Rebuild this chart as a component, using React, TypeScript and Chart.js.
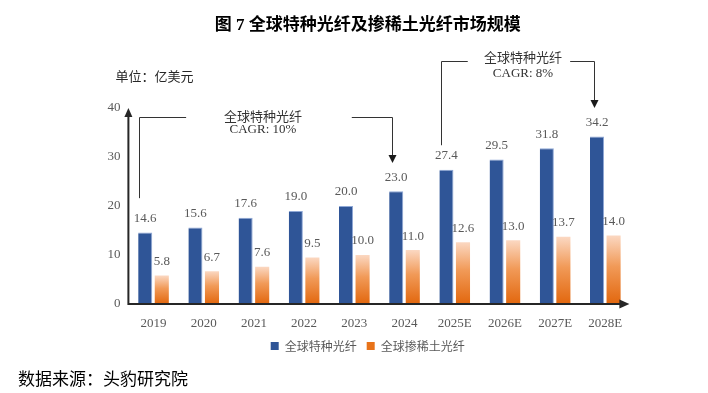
import { useEffect, useRef } from "react";
import { Chart, registerables } from "chart.js";

Chart.register(...registerables);

const categories = ["2019", "2020", "2021", "2022", "2023", "2024", "2025E", "2026E", "2027E", "2028E"];
const specialtyFiber = [14.6, 15.6, 17.6, 19.0, 20.0, 23.0, 27.4, 29.5, 31.8, 34.2];
const rareEarthFiber = [5.8, 6.7, 7.6, 9.5, 10.0, 11.0, 12.6, 13.0, 13.7, 14.0];
const seriesNames = ["全球特种光纤", "全球掺稀土光纤"];
const yMin = 0;
const yMax = 40;
const yStep = 10;
const titleText = "图 7 全球特种光纤及掺稀土光纤市场规模";
const unitText = "单位：亿美元";
const sourceText = "数据来源：头豹研究院";
const noteNames = ["全球特种光纤", "全球特种光纤"];
const noteRates = ["CAGR: 10%", "CAGR: 8%"];

const BLUE = "#2F5597";
const ORANGE = "#E8731A";
const SERIF = "'Liberation Serif', 'Noto Sans CJK SC', serif";
const CJK = "'Noto Sans CJK SC', 'Liberation Serif', sans-serif";

function orangeGradient(ctx: any) {
  const chart = ctx.chart;
  const ys = chart.scales && chart.scales.y;
  if (!chart.chartArea || !ys || ctx.type !== "data") return ORANGE;
  const v = ctx.raw as number;
  const top = ys.getPixelForValue(v);
  const bottom = ys.getPixelForValue(0);
  if (!isFinite(top) || !isFinite(bottom) || top === bottom) return ORANGE;
  const g = chart.ctx.createLinearGradient(0, top, 0, bottom);
  g.addColorStop(0, "#FBD8C2");
  g.addColorStop(0.45, "#F19A58");
  g.addColorStop(1, "#E2670E");
  return g;
}

const decorPlugin = {
  id: "decor",
  afterDraw(chart: any) {
    const ctx = chart.ctx as CanvasRenderingContext2D;
    const xs = chart.scales.x;
    const ys = chart.scales.y;
    const area = chart.chartArea;
    const legend = chart.legend;
    const centerX = legend ? legend.left + legend.width / 2 : (area.left + area.right) / 2;

    ctx.save();
    // Title
    ctx.fillStyle = "#000000";
    ctx.font = `bold 17px ${SERIF}`;
    ctx.textAlign = "center";
    ctx.textBaseline = "middle";
    ctx.fillText(titleText, centerX, 26);

    // Unit
    ctx.fillStyle = "#262626";
    ctx.font = `13px ${CJK}`;
    ctx.textAlign = "left";
    ctx.fillText(unitText, area.left - 13, area.top - 32);

    // Data labels
    ctx.fillStyle = "#595959";
    ctx.font = `13px ${SERIF}`;
    ctx.textAlign = "center";
    ctx.textBaseline = "middle";
    chart.data.datasets.forEach((ds: any, di: number) => {
      const meta = chart.getDatasetMeta(di);
      meta.data.forEach((el: any, i: number) => {
        const v = ds.data[i] as number;
        ctx.fillText(v.toFixed(1), el.x, el.y - 14);
      });
    });

    // Axes with arrows
    ctx.strokeStyle = "#262626";
    ctx.fillStyle = "#262626";
    ctx.lineWidth = 2;
    ctx.beginPath();
    ctx.moveTo(area.left, area.bottom + 1);
    ctx.lineTo(area.left, area.top + 6);
    ctx.moveTo(area.left - 1, area.bottom);
    ctx.lineTo(area.right - 8, area.bottom);
    ctx.stroke();
    ctx.beginPath();
    ctx.moveTo(area.left, area.top);
    ctx.lineTo(area.left - 4, area.top + 9);
    ctx.lineTo(area.left + 4, area.top + 9);
    ctx.closePath();
    ctx.fill();
    ctx.beginPath();
    ctx.moveTo(area.right - 1, area.bottom);
    ctx.lineTo(area.right - 11, area.bottom - 4.5);
    ctx.lineTo(area.right - 11, area.bottom + 4.5);
    ctx.closePath();
    ctx.fill();

    // CAGR brackets
    const px = (i: number) => xs.getPixelForValue(i);
    const py = (v: number) => ys.getPixelForValue(v);
    const brackets = [
      { xl: -0.29, xl2: 0.65, xr1: 3.95, xr: 4.75, yLine: 38.2, yLeftBottom: 21.6, yTip: 28.8, xText: 2.18, yName: 38.4, yRate: 35.5 },
      { xl: 5.73, xl2: 6.26, xr1: 8.3, xr: 8.78, yLine: 49.6, yLeftBottom: 32.4, yTip: 40.0, xText: 7.36, yName: 50.4, yRate: 47.1 },
    ];
    ctx.strokeStyle = "#333333";
    ctx.fillStyle = "#1a1a1a";
    ctx.lineWidth = 1;
    brackets.forEach((b, k) => {
      const xl = Math.round(px(b.xl)) + 0.5;
      const xl2 = px(b.xl2);
      const xr1 = px(b.xr1);
      const xr = Math.round(px(b.xr)) + 0.5;
      const yl = Math.round(py(b.yLine)) + 0.5;
      const ylb = py(b.yLeftBottom);
      const yTip = py(b.yTip);
      ctx.beginPath();
      ctx.moveTo(xl, ylb);
      ctx.lineTo(xl, yl);
      ctx.lineTo(xl2, yl);
      ctx.moveTo(xr1, yl);
      ctx.lineTo(xr, yl);
      ctx.lineTo(xr, yTip - 7);
      ctx.stroke();
      ctx.beginPath();
      ctx.moveTo(xr, yTip);
      ctx.lineTo(xr - 4, yTip - 8);
      ctx.lineTo(xr + 4, yTip - 8);
      ctx.closePath();
      ctx.fill();

      ctx.fillStyle = "#333333";
      ctx.textAlign = "center";
      ctx.textBaseline = "middle";
      ctx.font = `13px ${CJK}`;
      ctx.fillText(noteNames[k], px(b.xText), py(b.yName));
      ctx.font = `13px ${SERIF}`;
      ctx.fillText(noteRates[k], px(b.xText), py(b.yRate));
      ctx.fillStyle = "#1a1a1a";
    });

    // Source
    ctx.fillStyle = "#000000";
    ctx.font = `17px ${CJK}`;
    ctx.textAlign = "left";
    ctx.textBaseline = "middle";
    ctx.fillText(sourceText, 18, 379);
    ctx.restore();
  },
};

export default function App() {
  const ref = useRef<HTMLCanvasElement | null>(null);

  useEffect(() => {
    if (!ref.current) return;
    const chart = new Chart(ref.current, {
      type: "bar",
      data: {
        labels: categories,
        datasets: [
          {
            label: seriesNames[0],
            data: specialtyFiber,
            backgroundColor: BLUE,
            borderColor: "#8FA8D6",
            borderWidth: { top: 1, right: 1, left: 0, bottom: 0 },
            borderSkipped: false,
            categoryPercentage: 0.66,
            barPercentage: 0.85,
          },
          {
            label: seriesNames[1],
            data: rareEarthFiber,
            backgroundColor: orangeGradient,
            borderWidth: 0,
            categoryPercentage: 0.66,
            barPercentage: 0.85,
          },
        ],
      },
      options: {
        responsive: false,
        animation: false,
        devicePixelRatio: 1,
        layout: { padding: { left: 105, right: 77.6, top: 108, bottom: 31 } },
        scales: {
          x: {
            grid: { display: false, drawTicks: false },
            border: { display: false },
            ticks: { font: { family: SERIF, size: 13 }, color: "#595959", padding: 12, maxRotation: 0, autoSkip: false },
            afterFit: (s: any) => { s.height = 26; },
          },
          y: {
            min: yMin,
            max: yMax,
            grid: { display: false, drawTicks: false },
            border: { display: false },
            ticks: { stepSize: yStep, font: { family: SERIF, size: 13 }, color: "#595959", padding: 8 },
            afterFit: (s: any) => { s.width = 23.4; },
          },
        },
        plugins: {
          title: { display: false },
          tooltip: { enabled: false },
          legend: {
            position: "bottom",
            labels: {
              boxWidth: 8,
              boxHeight: 8,
              padding: 10,
              color: "#595959",
              font: { family: CJK, size: 12 },
              generateLabels: (c: any) => {
                const items = Chart.defaults.plugins.legend.labels.generateLabels(c);
                return items.map((it: any, i: number) => ({
                  ...it,
                  fillStyle: i === 0 ? BLUE : ORANGE,
                  strokeStyle: "rgba(0,0,0,0)",
                  lineWidth: 0,
                }));
              },
            },
          },
        },
      },
      plugins: [decorPlugin],
    });
    return () => chart.destroy();
  }, []);

  return (
    <div style={{ position: "absolute", left: 0, top: 0, width: 708, height: 393, background: "#fff" }}>
      <canvas ref={ref} width={708} height={393} style={{ display: "block", width: 708, height: 393 }} />
    </div>
  );
}
